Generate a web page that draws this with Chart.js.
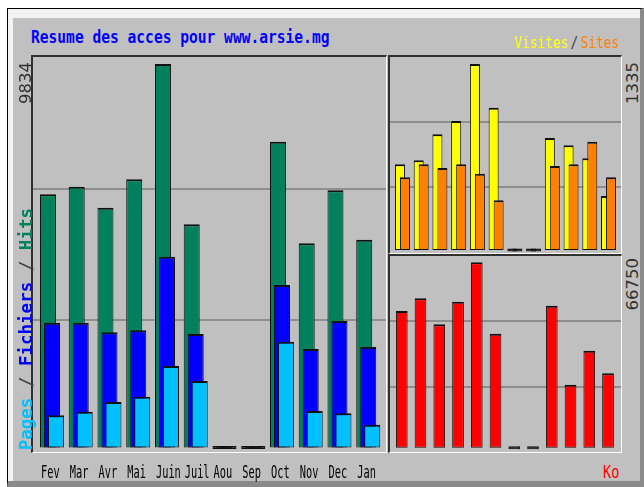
<!DOCTYPE html>
<html>
<head>
<meta charset="utf-8">
<script src="https://cdn.jsdelivr.net/npm/chart.js@4.4.1/dist/chart.umd.min.js"></script>
<style>
html,body{margin:0;padding:0;background:#fff;width:644px;height:487px;overflow:hidden;}
#frame{position:absolute;left:7px;top:8px;width:632px;height:472px;background:#c0c0c0;
  border-left:1px solid #000;border-top:1px solid #000;border-right:4px solid #8a8a8a;border-bottom:6px solid #8a8a8a;
  box-shadow:inset 5px 9px 0 #f2f2f2;}
.panel{position:absolute;box-sizing:border-box;background:#c0c0c0;border-top:2px solid #303030;border-left:2px solid #303030;border-right:1px solid #fff;border-bottom:1px solid #fff;}
#pMain{left:31px;top:55px;width:356px;height:398px;}
#pTop{left:388px;top:55px;width:234px;height:199px;}
#pBot{left:388px;top:254px;width:234px;height:199px;}
.cw{position:absolute;z-index:2;}
#cMain{left:33px;top:57px;width:353px;height:430px;}
#cTop{left:390px;top:57px;width:231px;height:195px;}
#cBot{left:390px;top:256px;width:231px;height:196px;}
.txt{position:absolute;white-space:nowrap;z-index:3;}
#title{left:31px;top:27.8px;font:bold 18px/18px "DejaVu Sans Mono";color:#0000ff;transform:scaleX(0.81);transform-origin:left top;}
#legend{right:25px;top:34.5px;font:16px/16px "DejaVu Sans Mono";transform:scaleX(0.8);transform-origin:right top;}
#ko{right:25px;top:463.6px;font:17px/17px "DejaVu Sans Mono";color:#ff0000;transform:scaleX(0.8);transform-origin:right top;}
.vt{position:absolute;white-space:nowrap;z-index:3;writing-mode:vertical-rl;text-orientation:sideways;transform:rotate(180deg);}
.num{font:16.5px/16.5px "DejaVu Sans";color:#303030;}
#lblLeft{left:18px;bottom:37px;font:bold 17.5px/17.5px "DejaVu Sans Mono";}
</style>
</head>
<body>
<div id="frame"></div>
<div class="panel" id="pMain"></div>
<div class="panel" id="pTop"></div>
<div class="panel" id="pBot"></div>
<div class="cw" id="cMain"><canvas id="chMain"></canvas></div>
<div class="cw" id="cTop"><canvas id="chTop"></canvas></div>
<div class="cw" id="cBot"><canvas id="chBot"></canvas></div>
<div class="txt" id="title">Resume des acces pour www.arsie.mg</div>
<div class="txt" id="legend"><span style="color:#ffff00">Visites</span><span style="color:#404040;margin:0 3px">/</span><span style="color:#ff8000">Sites</span></div>
<div class="txt" id="ko">Ko</div>
<div class="vt num" id="lblMainMax" style="left:18px;top:62px;"></div>
<div class="vt num" id="lblTopMax" style="left:624.8px;top:62px;"></div>
<div class="vt num" id="lblBotMax" style="left:624.8px;top:258px;"></div>
<div class="vt" id="lblLeft"><span style="color:#00c0ff">Pages</span><span style="color:#404040"> / </span><span style="color:#0000ff">Fichiers</span><span style="color:#404040"> / </span><span style="color:#00805c">Hits</span></div>
<script>
// ---- data ----
const months = ['Fev','Mar','Avr','Mai','Juin','Juil','Aou','Sep','Oct','Nov','Dec','Jan'];
const hits   = [6492, 6687, 6149, 6877, 9834, 5723, 0, 0, 7841, 5236, 6595, 5328];
const files  = [3200, 3200, 2954, 3005, 4892, 2910, 0, 0, 4167, 2526, 3243, 2577];
const pages  = [826, 918, 1167, 1303, 2090, 1705, 0, 0, 2713, 936, 877, 585];
const visits = [615, 644, 830, 926, 1335, 1021, 0, 0, 804, 751, 658, 388];
const sites  = [522, 615, 589, 615, 548, 357, 0, 0, 603, 615, 777, 522];
const kbytes = [49212, 53784, 44424, 52560, 66750, 41040, 0, 0, 51120, 22680, 34920, 26784];
const mainMaxLabel = 9834;
const topMaxLabel = 1335;
const botMaxLabel = 66750;

document.getElementById('lblMainMax').textContent = String(mainMaxLabel);
document.getElementById('lblTopMax').textContent = String(topMaxLabel);
document.getElementById('lblBotMax').textContent = String(botMaxLabel);

// ---- helpers ----
function yRange(maxVal, areaH, padTop, padBottom) {
  const u = maxVal / (areaH - padTop - padBottom);
  return { min: -padBottom * u, max: maxVal + padTop * u };
}
const EDGE = '#111';
function ds(data, color, bp, cp) {
  return {
    data: data,
    backgroundColor: (c) => (c.raw === 0 ? EDGE : color),
    borderColor: EDGE,
    borderWidth: { top: 2, right: 1, bottom: 1, left: 1 },
    borderSkipped: false,
    minBarLength: 3,
    barPercentage: bp,
    categoryPercentage: cp,
    grouped: true
  };
}
const panelPlugin = {
  id: 'panelDraw',
  beforeDatasetsDraw(chart) {
    const ctx = chart.ctx, y = chart.scales.y;
    ctx.save();
    ctx.strokeStyle = '#8e8e8e';
    ctx.lineWidth = 2;
    [1 / 3, 2 / 3].forEach(f => {
      const v = y.max - (y.max - y.min) * f;
      const py = Math.round(y.getPixelForValue(v));
      ctx.beginPath(); ctx.moveTo(0, py); ctx.lineTo(chart.width, py); ctx.stroke();
    });
    ctx.restore();
    chart.getSortedVisibleDatasetMetas().forEach(m => m.controller.draw());
    return false;
  }
};
const monthLabelPlugin = {
  id: 'monthLabels',
  afterDraw(chart) {
    const ctx = chart.ctx, x = chart.scales.x;
    ctx.save();
    ctx.font = '17.5px "DejaVu Sans Mono"';
    ctx.fillStyle = '#000';
    ctx.textBaseline = 'alphabetic';
    chart.data.labels.forEach((lab, i) => {
      const px = x.getPixelForValue(i) - 11;
      ctx.save();
      ctx.translate(px, 421);
      ctx.scale(0.59, 1);
      ctx.fillText(lab, 0, 0);
      ctx.restore();
    });
    ctx.restore();
  }
};
function makeChart(id, datasets, range, padding, extraPlugins) {
  return new Chart(document.getElementById(id), {
    type: 'bar',
    data: { labels: months, datasets: datasets },
    options: {
      responsive: true,
      maintainAspectRatio: false,
      animation: false,
      events: [],
      layout: { padding: padding },
      plugins: { legend: { display: false }, tooltip: { enabled: false }, title: { display: false } },
      scales: {
        x: { type: 'category', display: false, offset: true },
        y: { display: false, min: range.min, max: range.max }
      }
    },
    plugins: [panelPlugin].concat(extraPlugins || [])
  });
}

makeChart('chMain',
  [ds(hits, '#00805c', 4, 0.4174), ds(files, '#0000ff', 4, 0.4174), ds(pages, '#00c0ff', 4, 0.4174)],
  yRange(mainMaxLabel, 395, 7, 4.5),
  { left: 4.6, right: 3.4, top: 0, bottom: 35 },
  [monthLabelPlugin]);

makeChart('chTop',
  [ds(visits, '#ffff00', 2, 0.534), ds(sites, '#ff8000', 2, 0.534)],
  yRange(topMaxLabel, 195, 7, 2),
  { left: 3.1, right: 3.1, top: 0, bottom: 0 });

makeChart('chBot',
  [ds(kbytes, '#ff0000', 0.624, 1)],
  yRange(botMaxLabel, 196, 6.3, 4.3),
  { left: 2.4, right: 3.6, top: 0, bottom: 0 });
</script>
</body>
</html>
